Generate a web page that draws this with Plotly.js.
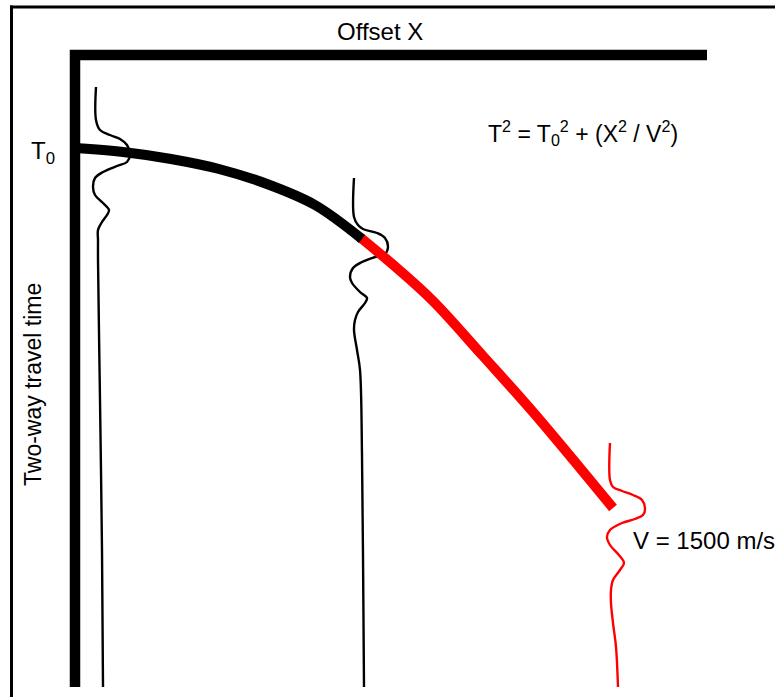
<!DOCTYPE html>
<html>
<head>
<meta charset="utf-8">
<script src="https://cdn.plot.ly/plotly-3.0.1.min.js"></script>
<style>
  html, body { margin: 0; padding: 0; background: #ffffff; }
  #chart { width: 775px; height: 697px; }
</style>
</head>
<body>
<div id="chart"></div>
<script>
// Coordinates: offset X to the right of the origin, two-way time downward from it.

// Axis frame (L-shaped offset / time axes)
const axisX = [632, 0, 0];
const axisT = [0, 0, 632];

// Reflection moveout curve: near-offset part (black) and far part (red)
const moveoutNearX = [0, 48, 96, 144, 192, 240, 287];
const moveoutNearT = [93, 97, 104, 114, 129, 150, 184];
const moveoutFarX = [286, 323, 358, 408, 458, 538];
const moveoutFarT = [183, 214, 246, 301, 357, 453];

// Seismic traces (wiggles) at three offsets
const trace1X = [21, 21, 25, 35, 45, 52, 55, 52, 42, 28, 20, 18, 20, 28, 34, 32, 27, 23, 23, 23, 25, 27, 28];
const trace1T = [32, 65, 75, 80, 84, 90, 100, 107, 111, 117, 123, 132, 140, 148, 155, 160, 167, 175, 185, 205, 345, 495, 632];

const trace2X = [279, 279, 283, 288, 302, 310, 313, 310, 300, 287, 278, 275, 277, 285, 292, 290, 283, 280, 279, 282, 285, 287, 288, 289];
const trace2T = [123, 162, 170, 174, 178, 183, 192, 199, 202, 207, 213, 222, 228, 237, 243, 248, 257, 265, 275, 295, 315, 400, 500, 632];

const trace3X = [535, 535, 538, 547, 558, 567, 570, 568, 560, 547, 535, 532, 535, 543, 549, 545, 538, 536, 536, 538, 541, 543];
const trace3T = [388, 425, 432, 436, 440, 445, 453, 460, 464, 468, 475, 482, 490, 499, 508, 515, 525, 535, 548, 568, 592, 632];

const FONT = 'Liberation Sans, Arial, Helvetica, sans-serif';

function wiggle(x, y, color) {
  return {
    x: x, y: y, type: 'scatter', mode: 'lines', hoverinfo: 'skip',
    line: { color: color, width: 2.4, shape: 'spline', smoothing: 1 }
  };
}

const data = [
  wiggle(trace1X, trace1T, '#000000'),
  wiggle(trace2X, trace2T, '#000000'),
  wiggle(trace3X, trace3T, '#ff0000'),
  {
    x: moveoutFarX, y: moveoutFarT, type: 'scatter', mode: 'lines', hoverinfo: 'skip',
    line: { color: '#ff0000', width: 10, shape: 'spline', smoothing: 1 }
  },
  {
    x: moveoutNearX, y: moveoutNearT, type: 'scatter', mode: 'lines', hoverinfo: 'skip',
    line: { color: '#000000', width: 10, shape: 'spline', smoothing: 1 }
  },
  {
    x: axisX, y: axisT, type: 'scatter', mode: 'lines', hoverinfo: 'skip',
    line: { color: '#000000', width: 10.5 }
  }
];

const layout = {
  width: 775,
  height: 697,
  margin: { l: 0, r: 0, t: 0, b: 0, pad: 0 },
  paper_bgcolor: '#ffffff',
  plot_bgcolor: '#ffffff',
  showlegend: false,
  xaxis: { range: [-75, 700], visible: false, fixedrange: true },
  yaxis: { range: [642, -55], visible: false, fixedrange: true },
  shapes: [
    // outer frame (top and left edges)
    { type: 'line', xref: 'paper', yref: 'paper', x0: 10 / 775, x1: 1.02, y0: 1 - 7 / 697, y1: 1 - 7 / 697,
      line: { color: '#000000', width: 3 } },
    { type: 'line', xref: 'paper', yref: 'paper', x0: 11.5 / 775, x1: 11.5 / 775, y0: -0.02, y1: 1 - 5.5 / 697,
      line: { color: '#000000', width: 3 } }
  ],
  annotations: [
    { x: 305, y: -24, xref: 'x', yref: 'y', text: 'Offset X', showarrow: false,
      xanchor: 'center', yanchor: 'middle', font: { family: FONT, size: 24, color: '#000000' } },
    { x: -32, y: 97, xref: 'x', yref: 'y', text: 'T<sub>0</sub>', showarrow: false,
      xanchor: 'center', yanchor: 'middle', font: { family: FONT, size: 24, color: '#000000' } },
    { x: 508, y: 78, xref: 'x', yref: 'y',
      text: 'T<sup>2</sup> = T<sub>0</sub><sup>2</sup> + (X<sup>2</sup> / V<sup>2</sup>)', showarrow: false,
      xanchor: 'center', yanchor: 'middle', font: { family: FONT, size: 23, color: '#000000' } },
    { x: 556, y: 485, xref: 'x', yref: 'y', text: 'V = 1500 m/s', showarrow: false,
      xanchor: 'left', yanchor: 'middle', font: { family: FONT, size: 24, color: '#000000' } },
    { x: -42, y: 330, xref: 'x', yref: 'y', text: 'Two-way travel time', showarrow: false, textangle: -90,
      xanchor: 'center', yanchor: 'middle', font: { family: FONT, size: 23, color: '#000000' } }
  ]
};

Plotly.newPlot('chart', data, layout, { staticPlot: true, displayModeBar: false });
</script>
</body>
</html>
